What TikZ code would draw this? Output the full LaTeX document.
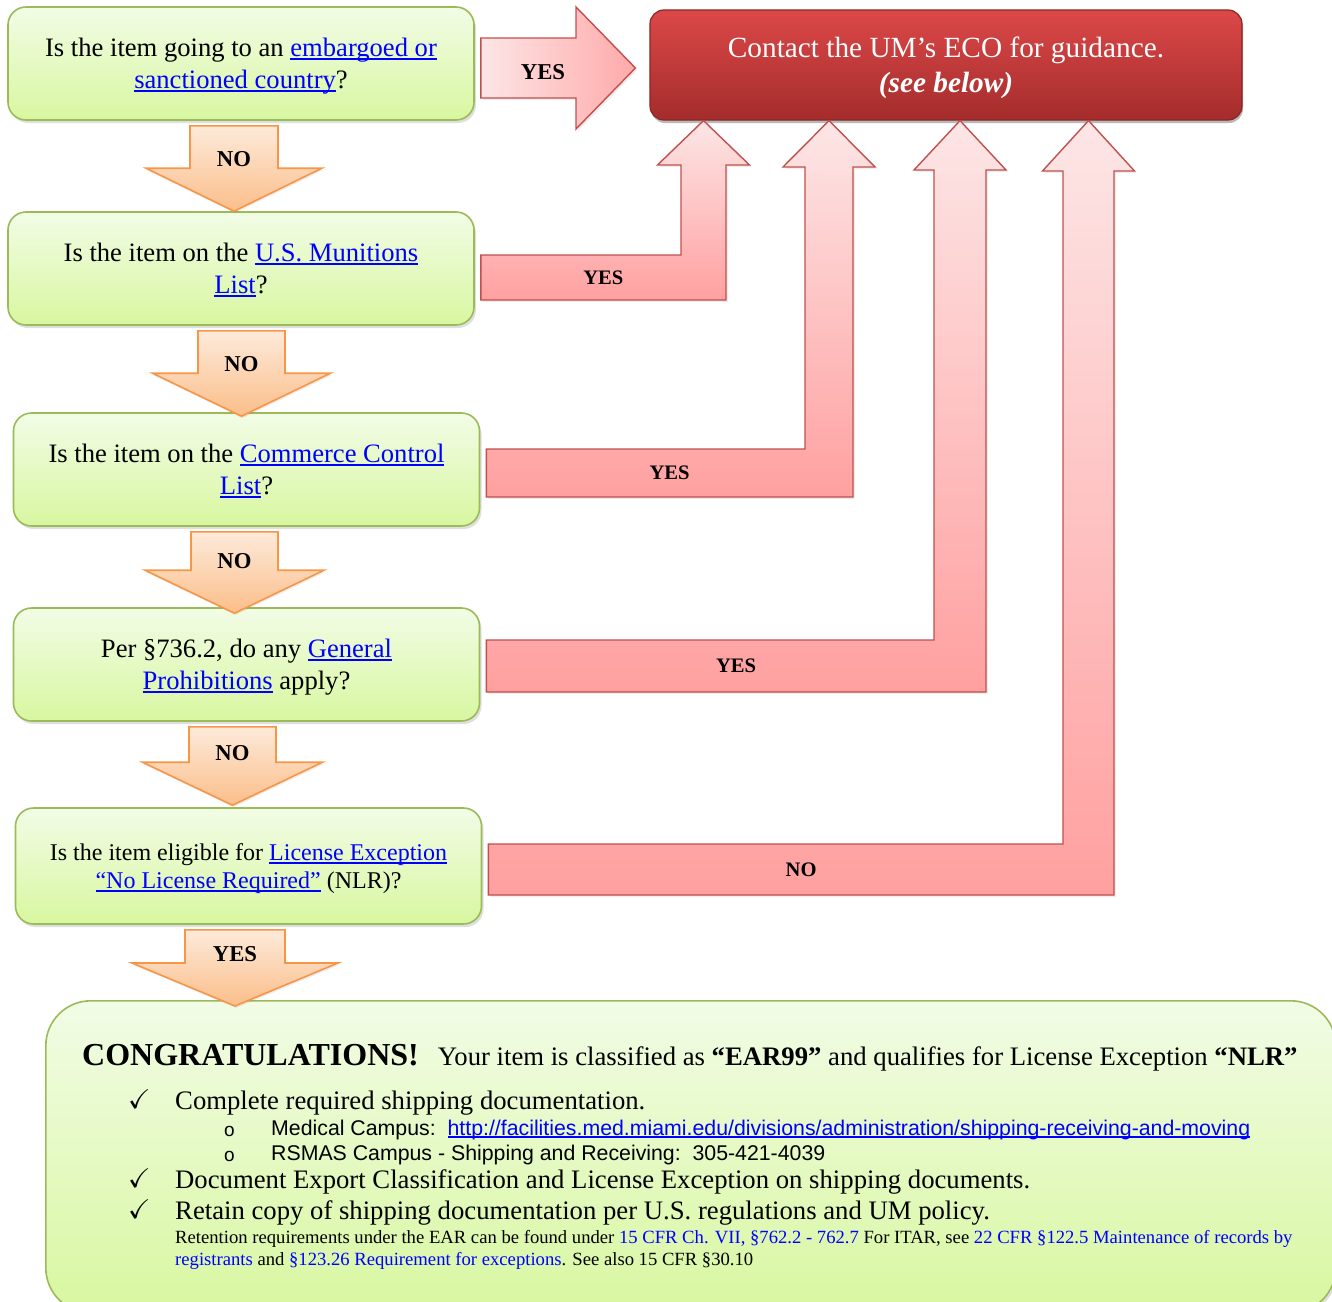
\documentclass[tikz,border=0pt]{standalone}
\usepackage{fontspec}
\setmainfont{Liberation Serif}
\setsansfont{Liberation Sans}
\usepackage{amssymb}
\usetikzlibrary{positioning,shadows,calc}

\definecolor{qtop}{HTML}{F2FCE6}
\definecolor{qbot}{HTML}{D8F7A0}
\definecolor{qline}{HTML}{9BBB59}
\definecolor{otop}{HTML}{FDEADA}
\definecolor{obot}{HTML}{FBBE8A}
\definecolor{oline}{HTML}{F79646}
\definecolor{rtop}{HTML}{FDE6E6}
\definecolor{rbot}{HTML}{FFA0A0}
\definecolor{rline}{HTML}{C0504D}
\definecolor{ecotop}{HTML}{DC4848}
\definecolor{ecobot}{HTML}{A42C2C}
\definecolor{ecoline}{HTML}{8C2424}
\definecolor{linkblue}{HTML}{0000FF}

\newcommand{\lnk}[1]{\textcolor{linkblue}{\setbox0\hbox{#1}\rlap{\rule[-0.13em]{\wd0}{0.07em}}\box0}}
\newcommand{\fsz}[2]{\fontsize{#1}{#2}\selectfont}

\begin{document}
\begin{tikzpicture}[x=1pt, y=-1pt,
qbox/.style={
  draw=qline,
  line width=1.6pt,
  rounded corners=18pt,
  top color=qtop,
  bottom color=qbot,
  minimum width=466pt,
  minimum height=113pt,
  align=center,
  text depth=0pt,
  font=\fsz{26.6}{32},
  drop shadow={shadow xshift=2pt, shadow yshift=-3pt, opacity=0.25}},
ecobox/.style={
  draw=ecoline,
  line width=1.2pt,
  rounded corners=14pt,
  top color=ecotop,
  bottom color=ecobot,
  minimum width=592pt,
  minimum height=110pt,
  align=center,
  text depth=0pt,
  text=white,
  font=\fsz{29.3}{35},
  drop shadow={shadow xshift=1pt, shadow yshift=-3pt, opacity=0.55}},
donebox/.style={
  draw=qline,
  line width=1.6pt,
  rounded corners=45pt,
  top color=qtop,
  bottom color=qbot,
  minimum width=1290pt,
  minimum height=312pt,
  drop shadow={shadow xshift=2pt, shadow yshift=-3pt, opacity=0.25}},
noarrow/.style={
  draw=oline,
  line width=1.6pt,
  top color=otop,
  bottom color=obot,
  drop shadow={shadow xshift=1pt, shadow yshift=-2pt, opacity=0.15}},
bentarrow/.style={
  draw=rline,
  line width=1.4pt,
  top color=rtop,
  bottom color=rbot,
  drop shadow={shadow xshift=2pt, shadow yshift=-2pt, opacity=0.15}},
yesarrow/.style={
  draw=rline,
  line width=1.4pt,
  left color=rtop,
  right color=rbot!90!white,
  drop shadow={shadow xshift=2pt, shadow yshift=-2pt, opacity=0.15}},
arrowlab/.style={font=\fsz{22.7}{26}\bfseries},
bentlab/.style={font=\fsz{20.6}{24}\bfseries},
bodytext/.style={anchor=base west, inner sep=0pt, font=\fsz{26.7}{32}},
subtext/.style={anchor=base west, inner sep=0pt, font=\sffamily\fsz{21.3}{25}},
smalltext/.style={anchor=base west, inner sep=0pt, font=\fsz{18.65}{22}}
]
\useasboundingbox (0,0) rectangle (1332,1301);

% decision boxes
\node[ecobox] (eco) at (946,65) {Contact the UM’s ECO for guidance.\\\textbf{\textit{(see below)}}};
\node[qbox] (q1) at (241,63.5) {Is the item going to an \lnk{embargoed or}\\\lnk{sanctioned country}?};
\node[qbox, below=90.4pt of q1] (q2) {Is the item on the \lnk{U.S. Munitions}\\\lnk{List}?};
\node[qbox, below=86.4pt of q2, xshift=5.5pt] (q3) {Is the item on the \lnk{Commerce Control}\\\lnk{List}?};
\node[qbox, below=80.4pt of q3] (q4) {Per §736.2, do any \lnk{General}\\\lnk{Prohibitions} apply?};
\node[qbox, below=85.4pt of q4, xshift=2pt, minimum height=116pt, font=\fsz{24}{28}] (q5) {Is the item eligible for \lnk{License Exception}\\\lnk{“No License Required”} (NLR)?};
\node[donebox, anchor=north west] (done) at (45,1000) {};

% down arrows
\foreach \a/\b/\cx/\hw/\hh/\tp in {q1/q2/234/44/88/0, q2/q3/241.5/43.5/89/4, q3/q4/234.5/43.5/89.5/6, q4/q5/232.5/43.5/90/-2, q5/done/235/50/103/6}
{
  \draw[noarrow]
    ($(\cx,0 |- \a.south)+(-\hw,5)$) --
    ($(\cx,0 |- \a.south)+(\hw,5)$) --
    ($(\cx,0 |- \b.north)+(\hw,\tp-43)$) --
    ($(\cx,0 |- \b.north)+(\hh,\tp-43)$) --
    ($(\cx,0 |- \b.north)+(0,\tp)$) --
    ($(\cx,0 |- \b.north)+(-\hh,\tp-43)$) --
    ($(\cx,0 |- \b.north)+(-\hw,\tp-43)$) -- cycle;
}
\foreach \a/\b/\cx/\tp/\lab in {q1/q2/234/0/NO, q2/q3/241.5/4/NO, q3/q4/234.5/6/NO, q4/q5/232.5/-2/NO, q5/done/235/6/YES}
  \node[arrowlab] (l\a) at ($(\cx,0 |- \b.north)+(0,\tp-52)$) {\lab};

% yes arrow to the ECO box
\coordinate (s1) at ($(q1.east |- 0,38)+(6,0)$);
\draw[yesarrow] (s1) -- (576,38) -- (576,7) -- ($(eco.west |- 0,68)+(-14,0)$) -- (576,129) -- (576,98) -- (s1 |- 0,98) -- cycle;
\node[arrowlab] (ryes) at (543,72) {YES};

% bent arrows up to the ECO box
\foreach \src/\xl/\xr/\yt/\yb/\sh/\lab in {q2/681/726/255/300/165/YES, q3/805/853/449/497/167/YES, q4/934/986/640/692/170/YES, q5/1063/1114/844/895/171/NO}
{
  \pgfmathsetmacro\cx{(\xl+\xr)/2}
  \coordinate (s\src) at ($(\src.east |- 0,\yt)+(6,0)$);
  \draw[bentarrow] (s\src) -- (\xl,\yt) -- (\xl,\sh) -- ({\cx-46},\sh) -- (\cx,0 |- eco.south) -- ({\cx+46},\sh) -- (\xr,\sh) -- (\xr,\yb) -- (s\src |- 0,\yb) -- cycle;
  \node[bentlab] (r\src) at ($(s\src)!0.5!(\xr,\yb)$) {\lab};
}

% final box text
\node[bodytext] (t0) at (82,1065) {{\fsz{32}{38}\bfseries CONGRATULATIONS!}\hspace{19pt}Your item is classified as \textbf{“EAR99”} and qualifies for License Exception \textbf{“NLR”}};
\foreach \y [count=\i] in {1108,1187,1218}
  \node[anchor=base west, inner sep=0pt, font=\fsz{27}{30}] (ck\i) at (128,\y) {$\checkmark$};
\node[bodytext] (b1) at (175,1109) {Complete required shipping documentation.};
\node[subtext, font=\sffamily\fsz{19}{22}] (o1) at (224,1136) {o};
\node[subtext] (m1) at (271,1135) {Medical Campus:\ \ \lnk{http://facilities.med.miami.edu/divisions/administration/shipping-receiving-and-moving}};
\node[subtext, font=\sffamily\fsz{19}{22}] (o2) at (224,1161) {o};
\node[subtext] (m2) at (271,1160) {RSMAS Campus - Shipping and Receiving:\ \ 305-421-4039};
\node[bodytext] (b2) at (175,1188) {Document Export Classification and License Exception on shipping documents.};
\node[bodytext] (b3) at (175,1219) {Retain copy of shipping documentation per U.S. regulations and UM policy.};
\node[smalltext] (n1) at (175,1243) {Retention requirements under the EAR can be found under \textcolor{linkblue}{15 CFR Ch. VII, §762.2 - 762.7} For ITAR, see \textcolor{linkblue}{22 CFR §122.5 Maintenance of records by}};
\node[smalltext] (n2) at (175,1265) {\textcolor{linkblue}{registrants} and \textcolor{linkblue}{§123.26 Requirement for exceptions}. See also 15 CFR §30.10};
\end{tikzpicture}
\end{document}
